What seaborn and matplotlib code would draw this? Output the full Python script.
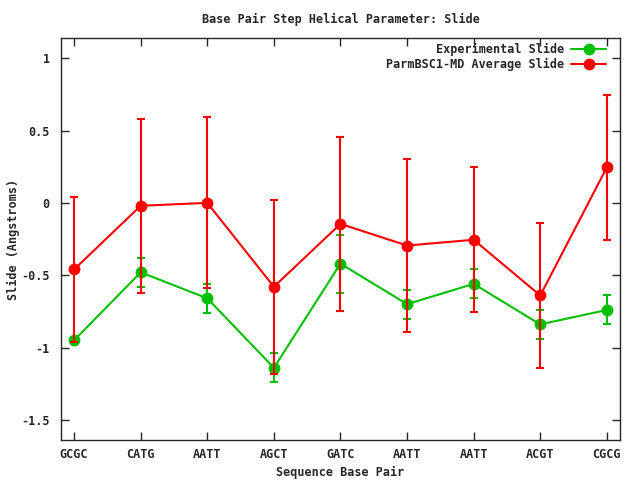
import matplotlib
matplotlib.use("Agg")
import matplotlib.pyplot as plt
import pandas as pd
import seaborn as sns

# Base pair steps (x axis labels)
steps = ["GCGC", "CATG", "AATT", "AGCT", "GATC", "AATT", "AATT", "ACGT", "CGCG"]

# Experimental slide and its error
expt_slide = [-0.95, -0.48, -0.66, -1.14, -0.42, -0.70, -0.56, -0.84, -0.74]
expt_err = [0.01, 0.10, 0.10, 0.10, 0.20, 0.10, 0.10, 0.10, 0.10]

# ParmBSC1-MD average slide and its error
md_slide = [-0.46, -0.02, 0.00, -0.58, -0.145, -0.295, -0.255, -0.64, 0.245]
md_err = [0.50, 0.60, 0.59, 0.60, 0.60, 0.60, 0.50, 0.50, 0.50]

GREEN = "#00c000"
RED = "#ff0000"
FS = 8.5

sns.set_style("ticks")
plt.rcParams["font.family"] = ["DejaVu Sans Mono"]
plt.rcParams["font.weight"] = "bold"
plt.rcParams["font.size"] = FS

pos = list(range(len(steps)))
df = pd.DataFrame({"pos": pos, "step": steps,
                   "expt": expt_slide, "expt_err": expt_err,
                   "md": md_slide, "md_err": md_err})

fig = plt.figure(figsize=(6.4, 4.8), dpi=100)
ax = fig.add_axes([0.095, 0.083, 0.874, 0.838])

# green series first, red on top
ax.errorbar(df["pos"], df["expt"], yerr=df["expt_err"], fmt="none",
            ecolor=GREEN, elinewidth=1.5, capsize=3, capthick=1.5, zorder=2)
sns.lineplot(data=df, x="pos", y="expt", ax=ax, color=GREEN, lw=1.5,
             marker="o", markersize=8.5, markeredgewidth=0,
             label="Experimental Slide", zorder=3)
ax.errorbar(df["pos"], df["md"], yerr=df["md_err"], fmt="none",
            ecolor=RED, elinewidth=1.5, capsize=3, capthick=1.5, zorder=4)
sns.lineplot(data=df, x="pos", y="md", ax=ax, color=RED, lw=1.5,
             marker="o", markersize=8.5, markeredgewidth=0,
             label="ParmBSC1-MD Average Slide", zorder=5)

ax.set_xlim(-0.2, 8.2)
ax.set_ylim(-1.64, 1.14)
ax.set_xticks(pos)
ax.set_xticklabels(steps)
ax.set_yticks([-1.5, -1, -0.5, 0, 0.5, 1])
ax.set_yticklabels(["-1.5", "-1", "-0.5", "0", "0.5", "1"])
ax.tick_params(direction="in", length=6, width=1, top=True, right=True,
               labelsize=FS, pad=8)
ax.tick_params(axis="x", pad=6)
for sp in ax.spines.values():
    sp.set_linewidth(1)
    sp.set_visible(True)

ax.set_xlabel("Sequence Base Pair", fontsize=FS, fontweight="bold", labelpad=3)
ax.set_ylabel("Slide (Angstroms)", fontsize=FS, fontweight="bold", labelpad=1)
ax.set_title("Base Pair Step Helical Parameter: Slide", fontsize=FS,
             fontweight="bold", pad=11)

ax.legend(loc="upper right", bbox_to_anchor=(0.984, 1.0), frameon=False,
          markerfirst=False, handlelength=3.0, borderaxespad=0,
          labelspacing=0.2, handletextpad=0.6,
          prop={"family": "DejaVu Sans Mono", "weight": "bold", "size": FS})

fig.savefig("out.png", dpi=100)
